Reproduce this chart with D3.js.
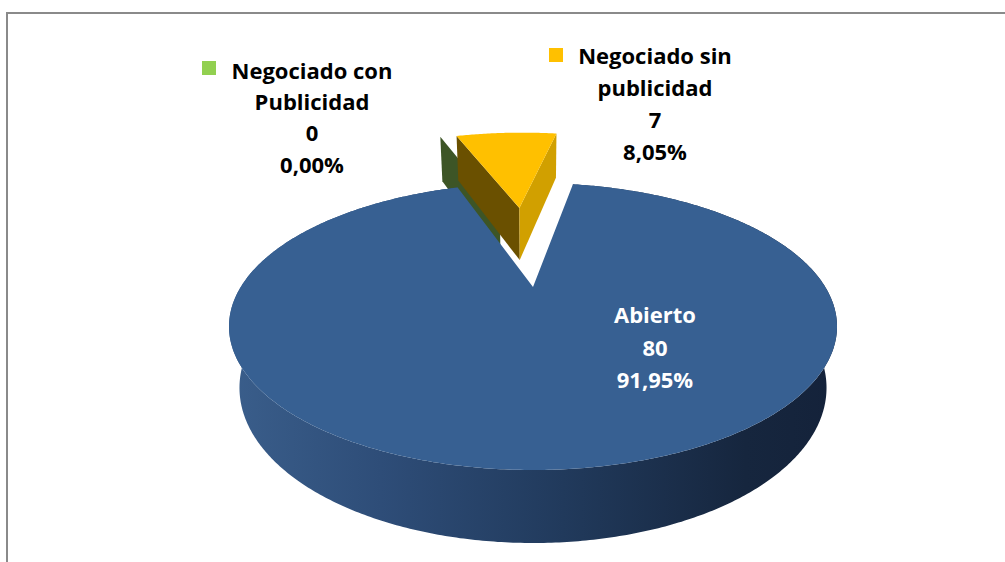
<!DOCTYPE html>
<html><head><meta charset="utf-8">
<script src="https://cdn.jsdelivr.net/npm/d3@7"></script>
<style>body{margin:0;background:#fff}svg{display:block}</style>
</head><body>
<script>
// ---- data ----
const categories = ["Abierto", "Negociado con Publicidad", "Negociado sin publicidad"];
const values = [80, 0, 7];
const percentLabels = ["91,95%", "0,00%", "8,05%"];
const exploded = [false, true, true];

// ---- style / layout ----
const W = 1005, H = 562;
const topColors = ["#376092", "#92D050", "#FFC000"];
const startFace = ["#243f62", "#3d5526", "#6a5000"];
const endFace = ["#2b4a73", "#6f9e3c", "#d1a000"];
const rotationDeg = 10;
const zeroSliceDirShiftDeg = 8; // explosion direction tweak for empty slice
// target frame of the pie's top ellipse (pixels)
const box = {left: 229, right: 837, top: 183, bottom: 470, apexY: 287, baseBottom: 543, explodedApexY: 208};

const svg = d3.select("body").append("svg").attr("width", W).attr("height", H);

// border (chart area)
svg.append("path").attr("d", `M7,${H+5} L7,13 L${W+5},13`)
  .attr("fill", "none").attr("stroke", "#8a8a8a").attr("stroke-width", 2);

// ---- perspective projection fitting ----
function raw(x, y, z, th, D) {
  const c = Math.cos(th), s = Math.sin(th);
  const d = D - (z * c + y * s);
  return [x / d, (z * s - y * c) / d];
}
function ellipseBox(th, D) {
  let xm = 1e9, xM = -1e9, ym = 1e9, yM = -1e9;
  for (let i = 0; i < 720; i++) {
    const a = i / 720 * 2 * Math.PI;
    const p = raw(Math.sin(a), 0, -Math.cos(a), th, D);
    xm = Math.min(xm, p[0]); xM = Math.max(xM, p[0]);
    ym = Math.min(ym, p[1]); yM = Math.max(yM, p[1]);
  }
  return {xm, xM, ym, yM};
}
function bisect(f, lo, hi, target, n = 60) {
  const inc = f(hi) > f(lo);
  for (let i = 0; i < n; i++) {
    const mid = (lo + hi) / 2;
    const v = f(mid);
    if ((v < target) === inc) lo = mid; else hi = mid;
  }
  return (lo + hi) / 2;
}
const targetW = box.right - box.left, targetH = box.bottom - box.top;
function solveTheta(D) {
  return bisect(th => { const b = ellipseBox(th, D); return targetW / (b.xM - b.xm) * (b.yM - b.ym); },
    0.05, 1.5, targetH);
}
function apexFor(D) {
  const th = solveTheta(D);
  const b = ellipseBox(th, D);
  const k = targetW / (b.xM - b.xm);
  return box.top - k * b.ym;
}
const Dist = bisect(apexFor, 1.3, 60, box.apexY);
const theta = solveTheta(Dist);
const eb = ellipseBox(theta, Dist);
const k = targetW / (eb.xM - eb.xm);
const cx = box.left - k * eb.xm;
const cy = box.top - k * eb.ym;
const proj = (x, y, z) => { const p = raw(x, y, z, theta, Dist); return [cx + k * p[0], cy + k * p[1]]; };
const depth = bisect(h => proj(0, -h, 1)[1], 0.01, 1, box.baseBottom);

// ---- pie layout ----
const rot = rotationDeg * Math.PI / 180;
const arcs = d3.pie().sort(null).value(d => d).startAngle(rot).endAngle(rot + 2 * Math.PI)(values);

function offsetFor(d, e) {
  if (!exploded[d.index]) return [0, 0];
  let m = (d.startAngle + d.endAngle) / 2;
  if (d.endAngle === d.startAngle) m += zeroSliceDirShiftDeg * Math.PI / 180;
  return [e * Math.sin(m), -e * Math.cos(m)];
}
const yellowArc = arcs[2];
const explode = bisect(e => { const o = offsetFor(yellowArc, e); return proj(o[0], 0, o[1])[1]; }, 0, 1.5, box.explodedApexY);

function pt(o, a, r, y) { return proj(o[0] + r * Math.sin(a), y, o[1] - r * Math.cos(a)); }
function arcPts(o, a0, a1, y) {
  const n = Math.max(2, Math.ceil(Math.abs(a1 - a0) / 0.01));
  return d3.range(n + 1).map(i => pt(o, a0 + (a1 - a0) * i / n, 1, y));
}
const line = d3.line();
const poly = pts => line(pts) + "Z";

const defs = svg.append("defs");
const g = defs.append("linearGradient").attr("id", "wall").attr("gradientUnits", "userSpaceOnUse")
  .attr("x1", box.left).attr("x2", box.right).attr("y1", 0).attr("y2", 0);
[[0, "#3a5e8b"], [0.25, "#2e4d78"], [0.55, "#213a5c"], [0.85, "#16263e"], [1, "#14223a"]]
  .forEach(([o, c]) => g.append("stop").attr("offset", o).attr("stop-color", c));

const order = [1, 2, 0];
const layer = svg.append("g");
order.forEach(i => {
  const d = arcs[i];
  const o = offsetFor(d, explode);
  const Ot = proj(o[0], 0, o[1]), Ob = proj(o[0], -depth, o[1]);
  const gg = layer.append("g").attr("class", "slice-" + i);
  if (exploded[i]) {
    const s0t = pt(o, d.startAngle, 1, 0), s0b = pt(o, d.startAngle, 1, -depth);
    gg.append("path").attr("d", poly([Ot, s0t, s0b, Ob])).attr("fill", startFace[i]);
    if (d.endAngle > d.startAngle) {
      const s1t = pt(o, d.endAngle, 1, 0), s1b = pt(o, d.endAngle, 1, -depth);
      gg.append("path").attr("d", poly([Ot, s1t, s1b, Ob])).attr("fill", endFace[i]);
      gg.append("path").attr("d", poly([Ot, ...arcPts(o, d.startAngle, d.endAngle, 0)])).attr("fill", topColors[i]);
    }
  } else {
    const topArc = arcPts(o, d.startAngle, d.endAngle, 0);
    const botArc = arcPts(o, d.startAngle, d.endAngle, -depth).reverse();
    gg.append("path").attr("d", poly([...topArc, ...botArc])).attr("fill", "url(#wall)");
    gg.append("path").attr("d", poly([Ot, ...topArc])).attr("fill", topColors[i]);
  }
});

// ---- labels ----
const font = "'Open Sans', 'Liberation Sans', Arial, sans-serif";
const labelPos = [
  {x: 655, y: 323, lh: 32.5, color: "#ffffff", lines: ["Abierto"]},
  {x: 312, y: 78.5, lh: 31.4, color: "#000000", lines: ["Negociado con", "Publicidad"]},
  {x: 655, y: 64, lh: 32, color: "#000000", lines: ["Negociado sin", "publicidad"]}
];
const keyPos = [null, {x: 202, y: 61}, {x: 549, y: 48}];
labelPos.forEach((L, i) => {
  const lines = [...L.lines, String(values[i]), percentLabels[i]];
  const t = svg.append("text").attr("text-anchor", "middle").attr("font-family", font)
    .attr("font-weight", 700).attr("font-size", 22).attr("fill", L.color);
  lines.forEach((s, j) => t.append("tspan").attr("x", L.x).attr("y", L.y + j * L.lh).text(s));
  if (keyPos[i]) svg.append("rect").attr("x", keyPos[i].x).attr("y", keyPos[i].y)
    .attr("width", 14).attr("height", 14).attr("fill", topColors[i]);
});
</script>
</body></html>
